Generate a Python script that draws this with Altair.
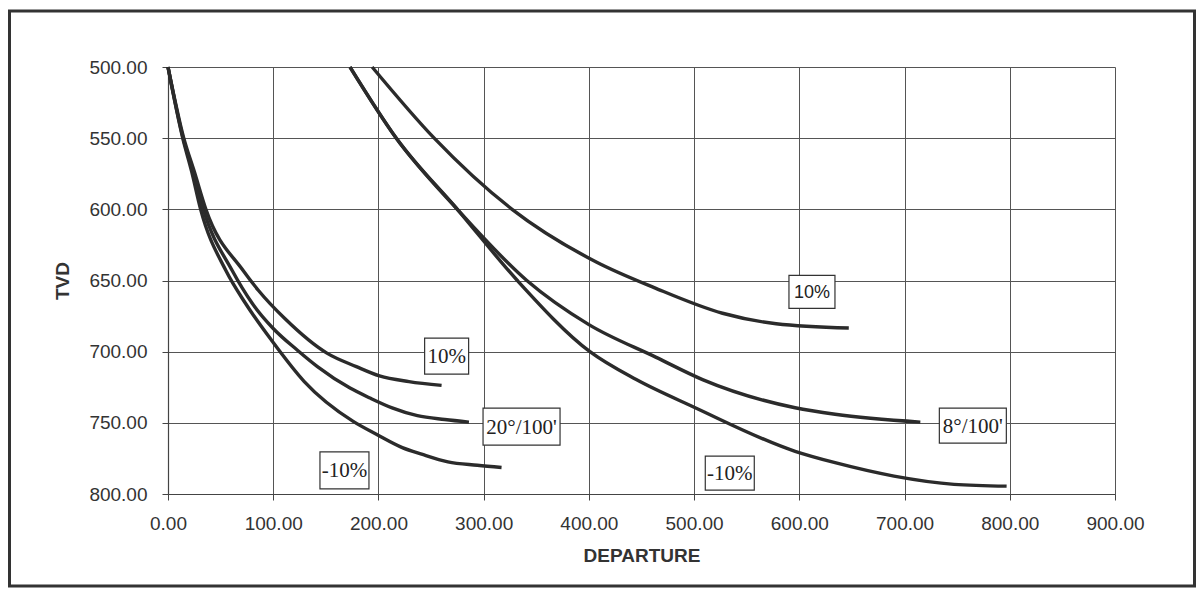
import altair as alt
import pandas as pd

# ---------------- data ----------------
# Left family (short curves)
left_m10_dep = [0, 14, 22.5, 31, 55, 73.6, 98.4, 129.5, 176, 198, 222.7, 241, 266, 294, 317]
left_m10_tvd = [500, 550, 573.5, 600, 643, 666, 692, 721, 749, 758, 767.4, 772, 777.4, 779.8, 781.4]

left_20_dep = [0, 14.4, 23.8, 33.5, 61, 80, 100, 123, 142, 173, 192, 213, 237, 263, 286]
left_20_tvd = [500, 550, 573.5, 600, 643, 666, 683.7, 699, 710.5, 725.6, 732.6, 739.5, 745, 747.7, 749.5]

left_p10_dep = [0, 15, 25, 36, 71.4, 86, 111, 151, 179, 201, 229, 260]
left_p10_tvd = [500, 550, 573.5, 600, 643, 657, 676.7, 701, 710.5, 717, 721, 723.7]

# Right family (long curves)
right_m10_dep = [173, 217, 275, 332, 401, 445, 500, 596, 634, 690, 747, 797]
right_m10_tvd = [500, 550, 600, 650, 700, 719.6, 739, 770, 778, 787.4, 793.2, 794.5]

right_8_dep = [173, 217, 275, 341, 400, 464, 508, 596, 634, 715]
right_8_tvd = [500, 550, 600, 650, 681, 704, 719.6, 739.4, 744, 749.5]

right_p10_dep = [194, 253, 327, 407, 462, 527, 578, 647]
right_p10_tvd = [500, 550, 600, 637, 655, 673, 680.4, 683.4]

# Boxed curve labels
label_text = ["10%", "20°/100'", "-10%", "10%", "8°/100'", "-10%"]
label_dep = [264.8, 336, 167.7, 612, 764.9, 533.9]
label_tvd = [703.2, 752.7, 783.4, 658, 752, 785.3]

x_ticks = [0, 100, 200, 300, 400, 500, 600, 700, 800, 900]
y_ticks = [500, 550, 600, 650, 700, 750, 800]

# ---------------- build table ----------------
series = [
    ("L -10%", left_m10_dep, left_m10_tvd),
    ("L 20", left_20_dep, left_20_tvd),
    ("L 10%", left_p10_dep, left_p10_tvd),
    ("R -10%", right_m10_dep, right_m10_tvd),
    ("R 8", right_8_dep, right_8_tvd),
    ("R 10%", right_p10_dep, right_p10_tvd),
]
rows = []
for name, xs, ys in series:
    for i, (xv, yv) in enumerate(zip(xs, ys)):
        rows.append({"series": name, "dep": xv, "tvd": yv, "i": i})
df = pd.DataFrame(rows)

W, H = 947, 427
INK = "#2b2b2b"
GRID = "#555555"
SANS = "Liberation Sans"
SERIF = "Liberation Serif"

xscale = alt.Scale(domain=[0, 900], nice=False, zero=False)
yscale = alt.Scale(domain=[500, 800], reverse=True, nice=False, zero=False)

xaxis = alt.Axis(
    values=x_ticks, format=".2f", title="DEPARTURE", grid=True,
    gridColor=GRID, gridWidth=1, domainColor="#444", domainWidth=1.2,
    tickColor="#444", tickSize=6, labelPadding=14, labelFont=SANS,
    labelFontSize=19, labelColor="#333", labelFlush=False,
    titleFont=SANS, titleFontSize=19, titleFontWeight="bold", titleColor="#333",
    titleY=61, titleBaseline="middle",
)
yaxis = alt.Axis(
    values=y_ticks, format=".2f", title="TVD", grid=True,
    gridColor=GRID, gridWidth=1, domainColor="#444", domainWidth=1.2,
    tickColor="#444", tickSize=6, labelPadding=15, labelFont=SANS,
    labelFontSize=19, labelColor="#333", labelFlush=False,
    titleFont=SANS, titleFontSize=19, titleFontWeight="bold", titleColor="#333",
    titleX=-106, titleY=H / 2, titleAngle=270, titleAlign="center", titleBaseline="middle",
)

lines = alt.Chart(df).mark_line(
    strokeWidth=3.4, color=INK, strokeJoin="round", interpolate="monotone",
).encode(
    x=alt.X("dep:Q", scale=xscale, axis=xaxis),
    y=alt.Y("tvd:Q", scale=yscale, axis=yaxis),
    detail="series:N",
    order="i:Q",
)

# box sizes (px) and fonts per label
box_w = [44, 77, 49, 46, 67, 49]
box_h = [36, 37, 37, 33, 35, 34]
fonts = [SERIF, SERIF, SERIF, SANS, SERIF, SERIF]
sizes = [21, 21, 21, 18, 21, 21]

layers = [lines]
for k in range(len(label_text)):
    ldf = pd.DataFrame({"dep": [label_dep[k]], "tvd": [label_tvd[k]], "t": [label_text[k]]})
    w, h = box_w[k], box_h[k]
    box = alt.Chart(ldf).mark_rect(
        fill="white", stroke="#333", strokeWidth=1.2,
        xOffset=-w / 2, x2Offset=w / 2, yOffset=-h / 2, y2Offset=h / 2,
    ).encode(
        x=alt.X("dep:Q", scale=xscale), x2="dep:Q",
        y=alt.Y("tvd:Q", scale=yscale), y2="tvd:Q",
    )
    txt = alt.Chart(ldf).mark_text(
        font=fonts[k], fontSize=sizes[k], color="#222", align="center", baseline="middle", dy=1,
    ).encode(
        x=alt.X("dep:Q", scale=xscale),
        y=alt.Y("tvd:Q", scale=yscale),
        text="t:N",
    )
    layers += [box, txt]

frame = alt.Chart(pd.DataFrame({"a": [0]})).mark_rect(
    fill=None, stroke="#333", strokeWidth=3,
).encode(
    x=alt.value(-158.5), x2=alt.value(W + 79.5),
    y=alt.value(-56), y2=alt.value(H + 92),
)
layers.append(frame)

chart = alt.layer(*layers).properties(
    width=W, height=H,
    autosize=alt.AutoSizeParams(type="none"),
    padding={"left": 160, "top": 59, "right": 81, "bottom": 95},
    background="white",
).configure_view(stroke=None)

chart.save("out.html", embed_options={"renderer": "svg", "actions": False})
